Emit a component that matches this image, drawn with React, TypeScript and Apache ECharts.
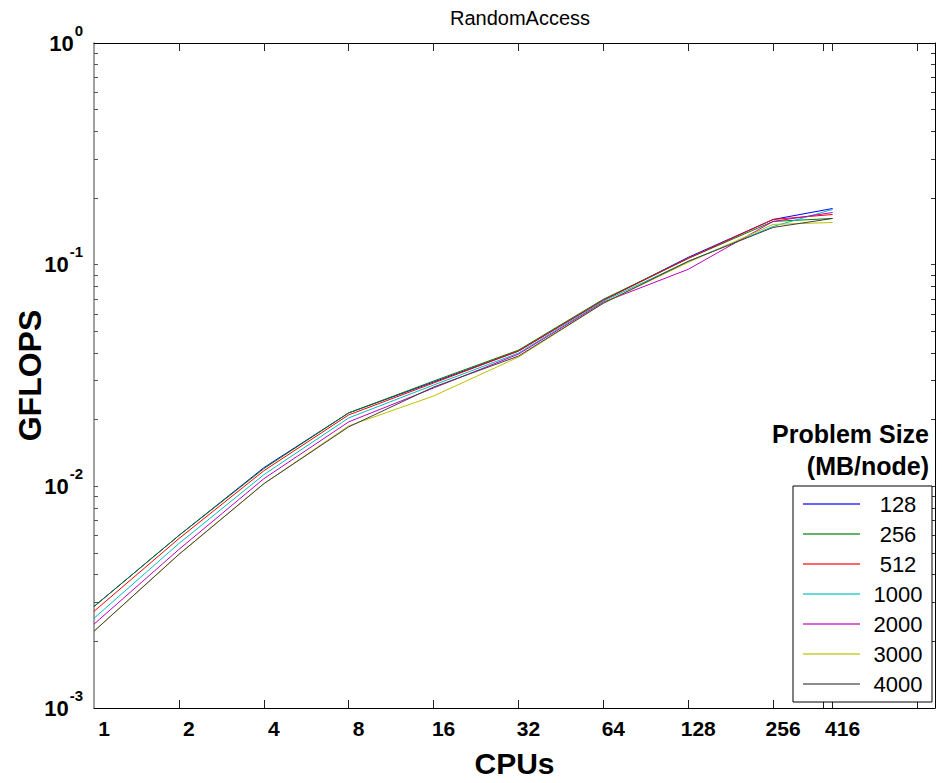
import React, { useEffect, useRef } from 'react';
import * as echarts from 'echarts';

// ---- data ----
const cpus = [1, 2, 4, 8, 16, 32, 64, 128, 256, 416];
const problemSizes = ['128', '256', '512', '1000', '2000', '3000', '4000'];
const gflops128 = [0.00287, 0.0060, 0.01213, 0.02144, 0.02955, 0.04074, 0.0691, 0.1079, 0.1599, 0.1792];
const gflops256 = [0.00287, 0.0060, 0.01201, 0.02144, 0.02985, 0.04115, 0.0698, 0.1067, 0.1567, 0.1616];
const gflops512 = [0.00273, 0.00581, 0.01175, 0.0210, 0.02924, 0.04074, 0.0691, 0.1067, 0.1599, 0.1684];
const gflops1000 = [0.00254, 0.00552, 0.01128, 0.02035, 0.02864, 0.0399, 0.0684, 0.1035, 0.1487, 0.1774];
const gflops2000 = [0.00239, 0.00519, 0.01082, 0.01953, 0.02777, 0.03949, 0.0677, 0.0953, 0.1567, 0.1719];
const gflops3000 = [0.00222, 0.00493, 0.01027, 0.01873, 0.02556, 0.03828, 0.0670, 0.1024, 0.1519, 0.1550];
const gflops4000 = [0.00222, 0.00493, 0.01027, 0.01854, 0.02805, 0.03868, 0.0670, 0.1035, 0.1472, 0.1616];
const seriesValues = [gflops128, gflops256, gflops512, gflops1000, gflops2000, gflops3000, gflops4000];
const seriesColors = ['#0000ff', '#008000', '#ff0000', '#00bfbf', '#bf00bf', '#bfbf00', '#404040'];

// tick marks / tick labels
const xTickCpus = [2, 4, 8, 16, 32, 64, 128, 256, 384, 416, 832];
const xLabelCpus = [1, 2, 4, 8, 16, 32, 64, 128, 256, 416];
const yTickValues = [
  0.002, 0.003, 0.004, 0.005, 0.006, 0.007, 0.008, 0.009, 0.01,
  0.02, 0.03, 0.04, 0.05, 0.06, 0.07, 0.08, 0.09, 0.1,
  0.2, 0.3, 0.4, 0.5, 0.6, 0.7, 0.8, 0.9,
];
const yLabelValues = [0.001, 0.01, 0.1, 1];
const legendTitleLines = ['Problem Size', '(MB/node)'];
const X_MIN = 1;
const X_MAX = 960;
const Y_MIN = 0.001;
const Y_MAX = 1;

const FONT = '"Liberation Sans", Arial, Helvetica, sans-serif';

export default function App() {
  const ref = useRef<HTMLDivElement>(null);
  useEffect(() => {
    if (!ref.current) return;
    const chart = echarts.init(ref.current, undefined, { renderer: 'svg' });
    const lx = (v: number) => Math.log2(v);
    const ly = (v: number) => Math.log10(v);

    const option: any = {
      animation: false,
      backgroundColor: '#fff',
      title: {
        text: 'RandomAccess',
        left: 515,
        top: 3,
        textAlign: 'center',
        textStyle: { fontSize: 20, fontWeight: 'normal', fontFamily: FONT, color: '#000' },
      },
      grid: { left: 94, right: 7, top: 43, bottom: 73, containLabel: false },
      xAxis: [
        {
          type: 'log', logBase: 2, min: X_MIN, max: X_MAX, position: 'bottom', gridIndex: 0,
          axisLine: { show: true, onZero: false, lineStyle: { color: '#000', width: 1 } },
          axisTick: { show: false }, axisLabel: { show: false }, splitLine: { show: false }, minorTick: { show: false },
          name: 'CPUs', nameLocation: 'middle', nameGap: 40,
          nameTextStyle: { fontSize: 30, fontWeight: 'bold', fontFamily: FONT, color: '#000' },
        },
        {
          type: 'value', min: 0, max: lx(X_MAX), position: 'bottom', gridIndex: 0,
          axisLine: { show: false, onZero: false },
          axisTick: { show: true, inside: true, length: 8, customValues: xTickCpus.map(lx), lineStyle: { color: '#222' } },
          axisLabel: {
            show: true, customValues: xLabelCpus.map(lx), margin: 10, padding: [0, 0, 0, 20],
            fontSize: 21, fontWeight: 'bold', fontFamily: FONT, color: '#000',
            formatter: (v: number) => String(Math.round(Math.pow(2, v))),
          },
          splitLine: { show: false },
        },
        {
          type: 'value', min: 0, max: lx(X_MAX), position: 'top', gridIndex: 0,
          axisLine: { show: true, onZero: false, lineStyle: { color: '#000', width: 1 } },
          axisTick: { show: true, inside: true, length: 8, customValues: xTickCpus.map(lx), lineStyle: { color: '#222' } },
          axisLabel: { show: false }, splitLine: { show: false },
        },
      ],
      yAxis: [
        {
          type: 'log', logBase: 10, min: Y_MIN, max: Y_MAX, position: 'left', gridIndex: 0,
          axisLine: { show: true, onZero: false, lineStyle: { color: '#808080', width: 1.5 } },
          axisTick: { show: false }, axisLabel: { show: false }, splitLine: { show: false }, minorTick: { show: false },
          name: 'GFLOPS', nameLocation: 'middle', nameGap: 48, nameRotate: 90,
          nameTextStyle: { fontSize: 32, fontWeight: 'bold', fontFamily: FONT, color: '#000' },
        },
        {
          type: 'value', min: ly(Y_MIN), max: ly(Y_MAX), position: 'left', gridIndex: 0,
          axisLine: { show: false, onZero: false },
          axisTick: { show: true, inside: true, length: 4, customValues: yTickValues.map(ly), lineStyle: { color: '#555' } },
          axisLabel: {
            show: true, customValues: yLabelValues.map(ly), margin: 11,
            formatter: (v: number) => `{b|10}{s|${Math.round(v)}}`,
            rich: {
              b: { fontSize: 22, fontWeight: 'bold', fontFamily: FONT, color: '#000' },
              s: { fontSize: 15, fontWeight: 'bold', fontFamily: FONT, color: '#000', padding: [0, 0, 26, 1] },
            },
          },
          splitLine: { show: false },
        },
        {
          type: 'value', min: ly(Y_MIN), max: ly(Y_MAX), position: 'right', gridIndex: 0,
          axisLine: { show: true, onZero: false, lineStyle: { color: '#000', width: 1 } },
          axisTick: { show: true, inside: true, length: 4, customValues: yTickValues.map(ly), lineStyle: { color: '#333' } },
          axisLabel: { show: false }, splitLine: { show: false },
        },
      ],
      legend: {
        orient: 'vertical', left: 793, top: 486,
        padding: [7, 1, 7, 10], itemGap: 8, itemWidth: 57, itemHeight: 2, icon: 'rect',
        borderColor: '#000', borderWidth: 1, borderRadius: 0, backgroundColor: '#fff',
        selectedMode: false,
        data: problemSizes,
        itemStyle: { opacity: 0.6 },
        formatter: '{a|{name}}',
        textStyle: {
          color: '#000', fontSize: 22, fontFamily: FONT,
          rich: { a: { width: 66, align: 'center', fontSize: 22, lineHeight: 22, fontFamily: FONT, color: '#000' } },
        },
      },
      graphic: legendTitleLines.map((t, i) => ({
        type: 'text', right: 13, top: 421 + i * 32,
        style: { text: t, fill: '#000', font: `bold 25px ${FONT}` },
      })),
      series: problemSizes.map((name, i) => ({
        name,
        type: 'line',
        xAxisIndex: 0,
        yAxisIndex: 0,
        showSymbol: false,
        symbol: 'none',
        color: seriesColors[i],
        lineStyle: { width: 1, color: seriesColors[i] },
        data: cpus.map((c, j) => [c, seriesValues[i][j]]),
      })),
    };
    chart.setOption(option);
    return () => chart.dispose();
  }, []);
  return (
    <div
      ref={ref}
      style={{ position: 'fixed', left: 0, top: 0, width: 942, height: 783, background: '#fff' }}
    />
  );
}
